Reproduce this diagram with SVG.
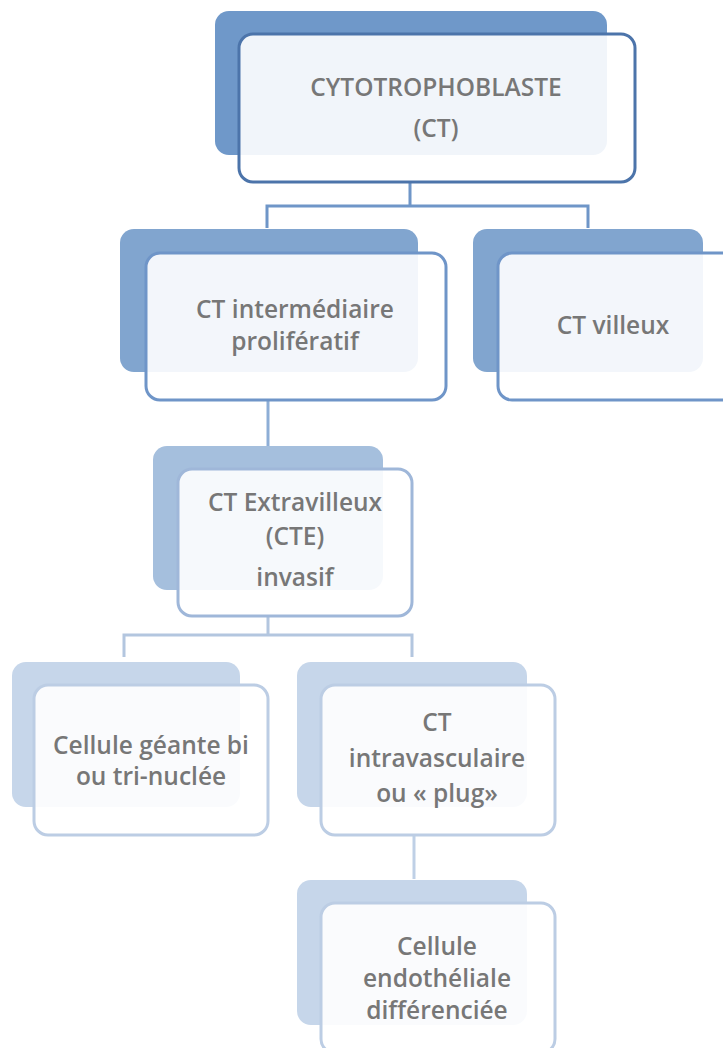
<svg xmlns="http://www.w3.org/2000/svg" width="723" height="1048" viewBox="0 0 723 1048">
<style>
.front{fill:#ffffff;fill-opacity:0.9;stroke-width:3}
.t{font-family:"Open Sans","Liberation Sans",sans-serif;font-weight:600;font-size:24.5px;text-anchor:middle;fill:#777777}
.c{fill:none;stroke-width:3}
</style>
<rect width="723" height="1048" fill="#ffffff"/>
<g id="connectors">
<path class="c" stroke="#6f96c8" d="M410,182 V206 M267,228 V206 H588 V228"/>
<path class="c" stroke="#8eaed6" d="M268,400 V446"/>
<path class="c" stroke="#b3c6df" d="M268,616 V635 M124,657 V635 H412 V657"/>
<path class="c" stroke="#bfd0e6" d="M414,835 V879"/>
</g>
<g id="n1">
<rect x="215" y="11" width="392" height="144" rx="14" fill="#6f98c9"/>
<rect class="front" x="239" y="34" width="396" height="148" rx="14" stroke="#4c74aa"/>
<text class="t" x="436" y="96" fill="#6e6e6e">CYTOTROPHOBLASTE</text>
<text class="t" x="436" y="137" font-size="22">(CT)</text>
</g>
<g id="n2">
<rect x="120" y="229" width="298" height="143" rx="14" fill="#81a5cf"/>
<rect class="front" x="146" y="253" width="300" height="147" rx="14" stroke="#6f95c8"/>
<text class="t" x="295" y="318">CT intermédiaire</text>
<text class="t" x="295" y="350">prolifératif</text>
</g>
<g id="n3">
<rect x="473" y="229" width="230" height="143" rx="14" fill="#81a5cf"/>
<rect class="front" x="498" y="253" width="240" height="147" rx="14" stroke="#6f95c8"/>
<text class="t" x="613" y="334">CT villeux</text>
</g>
<g id="n4">
<rect x="153" y="446" width="230" height="144" rx="14" fill="#a5bfdd"/>
<rect class="front" x="178" y="469" width="234" height="147" rx="14" stroke="#9fb7d9"/>
<text class="t" x="295" y="511">CT Extravilleux</text>
<text class="t" x="295" y="545">(CTE)</text>
<text class="t" x="295" y="586">invasif</text>
</g>
<g id="n5">
<rect x="12" y="662" width="228" height="145" rx="14" fill="#c6d6ea"/>
<rect class="front" x="34" y="685" width="234" height="150" rx="14" stroke="#bccde4"/>
<text class="t" x="151" y="754" fill="#858585">Cellule géante bi</text>
<text class="t" x="151" y="785" fill="#858585">ou tri-nuclée</text>
</g>
<g id="n6">
<rect x="297" y="662" width="230" height="145" rx="14" fill="#c6d6ea"/>
<rect class="front" x="321" y="685" width="234" height="150" rx="14" stroke="#bccde4"/>
<text class="t" x="437" y="731" fill="#858585">CT</text>
<text class="t" x="437" y="767" fill="#858585">intravasculaire</text>
<text class="t" x="437" y="802" fill="#858585">ou « plug»</text>
</g>
<g id="n7">
<rect x="297" y="880" width="230" height="145" rx="14" fill="#c6d6ea"/>
<rect class="front" x="321" y="903" width="234" height="150" rx="14" stroke="#bccde4"/>
<text class="t" x="437" y="955" fill="#858585">Cellule</text>
<text class="t" x="437" y="987" fill="#858585">endothéliale</text>
<text class="t" x="437" y="1019" fill="#858585">différenciée</text>
</g>
</svg>
